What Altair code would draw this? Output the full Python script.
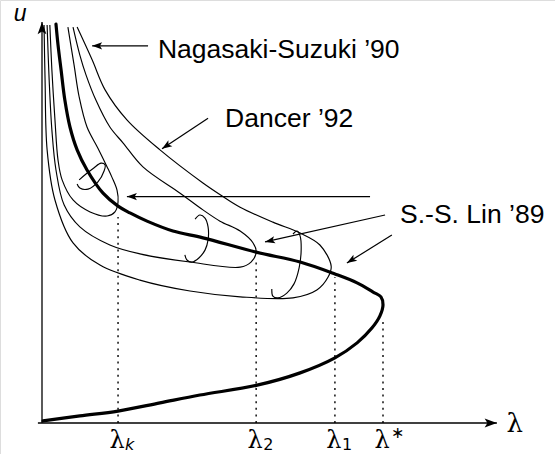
import math
import altair as alt
import pandas as pd

# Units: lambda is scaled so that the turning point lambda* = 1; u uses the same unit,
# so both axes share one pixel scale and arrow angles stay true on screen.
PX_PER_UNIT = 341.0
W, H = 555, 454
ORIGIN_X, ORIGIN_Y = 42, 423          # pixel position of (0, 0) inside the view
X_DOMAIN = [-ORIGIN_X / PX_PER_UNIT, (W - ORIGIN_X) / PX_PER_UNIT]
Y_DOMAIN = [-(H - ORIGIN_Y) / PX_PER_UNIT, ORIGIN_Y / PX_PER_UNIT]

# ---- main (radial) solution branch: lower branch, turning point, upper branch ----
main_lam = [0.003, 0.111, 0.223, 0.346, 0.463, 0.631, 0.757, 0.859, 0.924, 0.968, 0.991, 1.000,
            0.994, 0.971, 0.924, 0.859, 0.757, 0.628, 0.472, 0.384, 0.308, 0.258, 0.223, 0.179,
            0.132, 0.103, 0.082, 0.067, 0.056, 0.047, 0.041]
main_u = [0.006, 0.021, 0.035, 0.059, 0.082, 0.111, 0.147, 0.191, 0.235, 0.279, 0.314, 0.346,
          0.370, 0.384, 0.411, 0.437, 0.472, 0.501, 0.543, 0.563, 0.592, 0.616, 0.636, 0.674,
          0.742, 0.801, 0.868, 0.947, 1.035, 1.109, 1.170]

# ---- non-radial branches bifurcating at lambda_k, lambda_2, lambda_1 ----
branch_k_lam = [0.023, 0.029, 0.038, 0.047, 0.059, 0.091, 0.141, 0.191, 0.214, 0.223, 0.220, 0.205,
                0.191, 0.164, 0.132, 0.109, 0.094, 0.076]
branch_k_u = [1.167, 1.035, 0.889, 0.771, 0.713, 0.654, 0.619, 0.607, 0.619, 0.648, 0.683, 0.721,
              0.751, 0.806, 0.868, 0.956, 1.050, 1.161]

branch_2_lam = [0.015, 0.021, 0.029, 0.041, 0.065, 0.111, 0.199, 0.287, 0.434, 0.581, 0.613, 0.628,
                0.619, 0.581, 0.522, 0.472, 0.405, 0.296, 0.238, 0.199, 0.158, 0.129, 0.111, 0.091]
branch_2_u = [1.167, 1.006, 0.859, 0.742, 0.639, 0.575, 0.522, 0.496, 0.472, 0.457, 0.472, 0.501,
              0.528, 0.563, 0.592, 0.625, 0.674, 0.751, 0.821, 0.868, 0.947, 1.021, 1.079, 1.161]

branch_1_lam = [0.006, 0.009, 0.015, 0.038, 0.091, 0.170, 0.287, 0.434, 0.581, 0.736, 0.806, 0.839,
                0.848, 0.815, 0.757, 0.677, 0.581, 0.528, 0.472, 0.346, 0.249, 0.185, 0.147, 0.103]
branch_1_u = [1.167, 1.006, 0.801, 0.654, 0.528, 0.463, 0.419, 0.387, 0.370, 0.367, 0.390, 0.428,
              0.460, 0.522, 0.557, 0.589, 0.633, 0.666, 0.704, 0.801, 0.889, 0.977, 1.065, 1.161]

# ---- small loops marking the symmetry-breaking rotation on each branch ----
loop_k_lam = [0.103, 0.111, 0.135, 0.164, 0.182, 0.185, 0.173, 0.152, 0.129, 0.109]
loop_k_u = [0.701, 0.689, 0.686, 0.707, 0.739, 0.757, 0.762, 0.748, 0.730, 0.713]

loop_2_lam = [0.449, 0.463, 0.478, 0.487, 0.487, 0.478, 0.460, 0.440, 0.425, 0.419]
loop_2_u = [0.598, 0.610, 0.601, 0.575, 0.537, 0.507, 0.484, 0.472, 0.478, 0.493]

loop_1_lam = [0.736, 0.748, 0.757, 0.760, 0.754, 0.739, 0.718, 0.692, 0.677, 0.674]
loop_1_u = [0.554, 0.563, 0.548, 0.507, 0.455, 0.408, 0.381, 0.367, 0.372, 0.393]

# ---- bifurcation values on the lambda axis ----
tick_script = ["k", "2", "1", "\u2217"]
tick_lam = [0.223, 0.628, 0.859, 1.000]
tick_top_u = [0.604, 0.481, 0.428, 0.302]
script_u = [-0.079, -0.079, -0.079, -0.030]

# ---- annotations ----
label_text = ["Nagasaki-Suzuki \u201990", "Dancer \u201992", "S.-S. Lin \u201989"]
label_lam = [0.340, 0.537, 1.050]
label_u = [1.070, 0.868, 0.587]

arrow_tail_lam = [0.311, 0.487, 0.962, 1.006, 1.026]
arrow_tail_u = [1.106, 0.894, 0.664, 0.610, 0.551]
arrow_tip_lam = [0.147, 0.352, 0.249, 0.654, 0.894]
arrow_tip_u = [1.106, 0.804, 0.664, 0.531, 0.469]

axis_start_lam = [-0.012, 0.0]
axis_start_u = [0.0, 0.0]
axis_end_lam = [1.334, 0.0]
axis_end_u = [0.0, 1.176]


def heading(l0, u0, l1, u1):
    """Clockwise screen angle (degrees) of the direction from (l0,u0) to (l1,u1)."""
    return math.degrees(math.atan2(-(u1 - u0), l1 - l0)) % 360


def curve_frame(name, lam, u):
    return pd.DataFrame({"curve": name, "i": range(len(lam)), "lam": lam, "u": u})


XS = alt.Scale(domain=X_DOMAIN, nice=False, zero=False)
YS = alt.Scale(domain=Y_DOMAIN, nice=False, zero=False)


def X(field="lam"):
    return alt.X(f"{field}:Q", scale=XS, axis=None)


def Y(field="u"):
    return alt.Y(f"{field}:Q", scale=YS, axis=None)


thin_df = pd.concat([
    curve_frame("branch_k", branch_k_lam, branch_k_u),
    curve_frame("branch_2", branch_2_lam, branch_2_u),
    curve_frame("branch_1", branch_1_lam, branch_1_u),
    curve_frame("loop_k", loop_k_lam, loop_k_u),
    curve_frame("loop_2", loop_2_lam, loop_2_u),
    curve_frame("loop_1", loop_1_lam, loop_1_u),
], ignore_index=True)
main_df = curve_frame("main", main_lam, main_u)

ticks_df = pd.DataFrame({"lam": tick_lam, "top": tick_top_u, "zero": 0.0,
                         "script": tick_script, "script_u": script_u,
                         "name_u": -0.073, "name": "\u03bb"})

labels_df = pd.DataFrame({"text": label_text, "lam": label_lam, "u": label_u})

arrows_df = pd.DataFrame({"lam": arrow_tail_lam, "u": arrow_tail_u,
                          "lam2": arrow_tip_lam, "u2": arrow_tip_u})
arrows_df["angle"] = [heading(a, b, c, d) for a, b, c, d in
                      zip(arrow_tail_lam, arrow_tail_u, arrow_tip_lam, arrow_tip_u)]

axes_df = pd.DataFrame({"lam": axis_start_lam, "u": axis_start_u,
                        "lam2": axis_end_lam, "u2": axis_end_u})
axes_df["angle"] = [heading(a, b, c, d) for a, b, c, d in
                    zip(axis_start_lam, axis_start_u, axis_end_lam, axis_end_u)]

# arrowhead with its tip at the anchor point, pointing along +x
HEAD = "M0,0 L-2,-0.72 L-1.55,0 L-2,0.72 Z"

thin = alt.Chart(thin_df).mark_line(
    interpolate="catmull-rom", color="black", strokeWidth=1.15
).encode(x=X(), y=Y(), detail="curve:N", order="i:Q")

main = alt.Chart(main_df).mark_line(
    interpolate="catmull-rom", color="black", strokeWidth=3.2, strokeCap="round"
).encode(x=X(), y=Y(), order="i:Q")

dotted = alt.Chart(ticks_df).mark_rule(
    color="black", strokeWidth=1.4, strokeDash=[2, 4.6]
).encode(x=X(), y=Y("zero"), y2="top:Q")

axes = alt.Chart(axes_df).mark_rule(color="black", strokeWidth=1.3).encode(
    x=X(), y=Y(), x2="lam2:Q", y2="u2:Q")
axis_heads = alt.Chart(axes_df).mark_point(
    shape=HEAD, filled=True, size=150, color="black", opacity=1, strokeWidth=0
).encode(x=X("lam2"), y=Y("u2"), angle=alt.Angle("angle:Q", scale=None))

shafts = alt.Chart(arrows_df).mark_rule(color="black", strokeWidth=1.2).encode(
    x=X(), y=Y(), x2="lam2:Q", y2="u2:Q")
heads = alt.Chart(arrows_df).mark_point(
    shape=HEAD, filled=True, size=100, color="black", opacity=1, strokeWidth=0
).encode(x=X("lam2"), y=Y("u2"), angle=alt.Angle("angle:Q", scale=None))

labels = alt.Chart(labels_df).mark_text(
    align="left", baseline="alphabetic", font="Liberation Sans", fontSize=26.5, color="black"
).encode(x=X(), y=Y(), text="text:N")

tick_names = alt.Chart(ticks_df).mark_text(
    align="center", baseline="alphabetic", font="DejaVu Serif", fontSize=24, color="black", dx=-1
).encode(x=X(), y=Y("name_u"), text="name:N")

# subscripts (italic k, upright digits) and the superscript star
sub_k = alt.Chart(ticks_df).transform_filter(alt.datum.script == "k").mark_text(
    align="left", baseline="alphabetic", font="DejaVu Sans", fontStyle="italic",
    fontSize=16, color="black", dx=7
).encode(x=X(), y=Y("script_u"), text="script:N")
sub_digits = alt.Chart(ticks_df).transform_filter(
    (alt.datum.script == "1") | (alt.datum.script == "2")
).mark_text(
    align="left", baseline="alphabetic", font="DejaVu Sans", fontSize=16, color="black", dx=7
).encode(x=X(), y=Y("script_u"), text="script:N")
sup_star = alt.Chart(ticks_df).transform_filter(alt.datum.script == "\u2217").mark_text(
    align="left", baseline="middle", font="DejaVu Sans", fontSize=16, color="black", dx=8
).encode(x=X(), y=Y("script_u"), text="script:N")

axis_titles_df = pd.DataFrame({"text": ["u", "\u03bb"], "lam": [-0.064, 1.386], "u": [1.179, -0.026]})
u_title = alt.Chart(axis_titles_df.iloc[[0]]).mark_text(
    align="center", baseline="alphabetic", font="Liberation Sans", fontStyle="italic",
    fontSize=23, color="black"
).encode(x=X(), y=Y(), text="text:N")
lam_title = alt.Chart(axis_titles_df.iloc[[1]]).mark_text(
    align="center", baseline="alphabetic", font="DejaVu Serif", fontSize=26, color="black"
).encode(x=X(), y=Y(), text="text:N")

chart = alt.layer(
    dotted, thin, main, axes, axis_heads, shafts, heads,
    labels, tick_names, sub_k, sub_digits, sup_star, u_title, lam_title
).properties(
    width=W, height=H, padding=0, autosize=alt.AutoSizeParams(type="none")
).configure_view(stroke=None).configure(background="white")

chart.save("out.html", embed_options={"renderer": "svg", "actions": False})
